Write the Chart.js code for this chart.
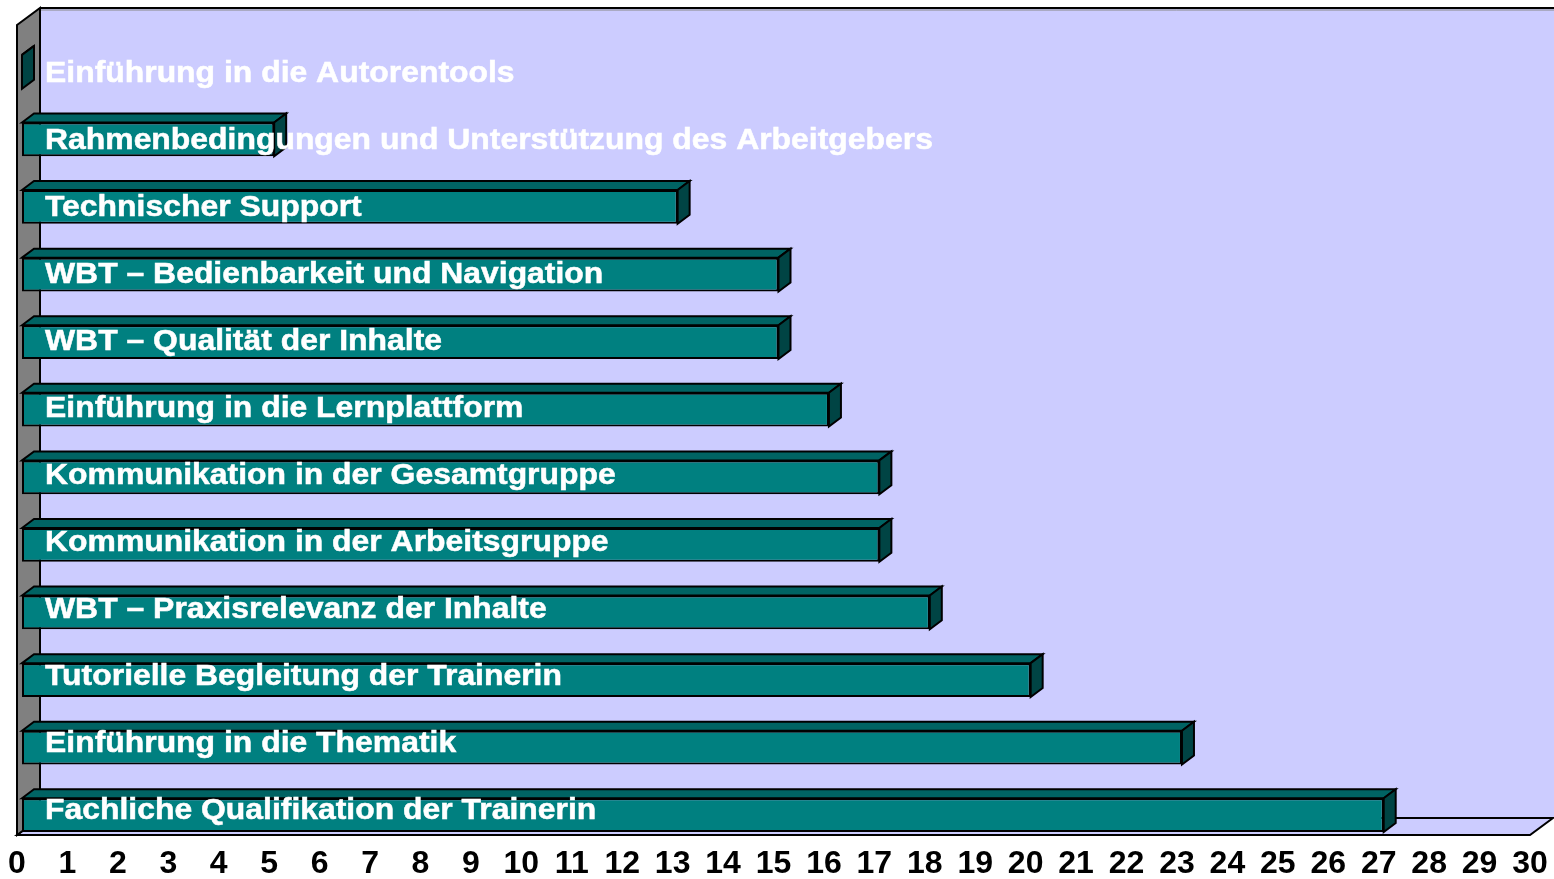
<!DOCTYPE html>
<html>
<head>
<meta charset="utf-8">
<script src="https://cdn.jsdelivr.net/npm/chart.js@4"></script>
<style>
  html, body { margin: 0; padding: 0; background: #fff; }
  canvas { display: block; }
</style>
</head>
<body>
<canvas id="chart" width="1554" height="879"></canvas>
<script>
const categories = [
  'Einführung in die Autorentools',
  'Rahmenbedingungen und Unterstützung des Arbeitgebers',
  'Technischer Support',
  'WBT – Bedienbarkeit und Navigation',
  'WBT – Qualität der Inhalte',
  'Einführung in die Lernplattform',
  'Kommunikation in der Gesamtgruppe',
  'Kommunikation in der Arbeitsgruppe',
  'WBT – Praxisrelevanz der Inhalte',
  'Tutorielle Begleitung der Trainerin',
  'Einführung in die Thematik',
  'Fachliche Qualifikation der Trainerin'
];
const counts = [0, 5, 13, 15, 15, 16, 17, 17, 18, 20, 23, 27];
const axisMin = 0;
const axisMax = 30;
const axisStep = 1;

const wallColor = '#ccccff';
const sideWallColor = '#808080';
const barFront = '#008080';
const barTop = '#006363';
const barSide = '#004444';

// excel style 3d box: walls, floor, bar tops and sides
const box3d = {
  id: 'box3d',
  beforeDatasetsDraw(chart) {
    const {ctx, scales: {x}} = chart;
    const x0 = x.getPixelForValue(axisMin) - 5;
    const x1 = x.getPixelForValue(axisMax) - 5;
    const floorY = 835;
    const topY = 25;
    const dx = 23, dy = -17;
    ctx.save();
    ctx.lineJoin = 'miter';
    // back wall
    ctx.fillStyle = wallColor;
    ctx.fillRect(x0 + dx, topY + dy, chart.width - x0 - dx + 5, floorY - topY);
    // floor
    ctx.beginPath();
    ctx.moveTo(x0, floorY);
    ctx.lineTo(x0 + dx, floorY + dy);
    ctx.lineTo(x1 + dx, floorY + dy);
    ctx.lineTo(x1, floorY);
    ctx.closePath();
    ctx.fill();
    ctx.strokeStyle = '#000';
    ctx.lineWidth = 2;
    ctx.stroke();
    // left wall
    ctx.beginPath();
    ctx.moveTo(x0, topY);
    ctx.lineTo(x0 + dx, topY + dy);
    ctx.lineTo(x0 + dx, floorY + dy);
    ctx.lineTo(x0, floorY);
    ctx.closePath();
    ctx.fillStyle = sideWallColor;
    ctx.fill();
    ctx.stroke();
    // top edge of back wall
    ctx.beginPath();
    ctx.moveTo(x0 + dx, topY + dy);
    ctx.lineTo(chart.width + 5, topY + dy);
    ctx.stroke();
    ctx.strokeStyle = '#888';
    ctx.lineWidth = 1;
    ctx.beginPath();
    ctx.moveTo(x0 + dx + 1, topY + dy + 2);
    ctx.lineTo(chart.width + 5, topY + dy + 2);
    ctx.stroke();
    ctx.restore();
  },
  afterDatasetsDraw(chart) {
    const {ctx} = chart;
    const meta = chart.getDatasetMeta(0);
    const dx = 12, dy = -9;
    ctx.save();
    ctx.strokeStyle = '#000';
    ctx.lineWidth = 2;
    ctx.lineJoin = 'miter';
    meta.data.forEach((bar) => {
      const left = bar.base;
      const right = bar.x;
      const top = bar.y - bar.height / 2;
      const bottom = bar.y + bar.height / 2;
      // top face
      ctx.beginPath();
      ctx.moveTo(left, top);
      ctx.lineTo(left + dx, top + dy);
      ctx.lineTo(right + dx, top + dy);
      ctx.lineTo(right, top);
      ctx.closePath();
      ctx.fillStyle = barTop;
      ctx.fill();
      ctx.stroke();
      // side face
      ctx.beginPath();
      ctx.moveTo(right, top);
      ctx.lineTo(right + dx, top + dy);
      ctx.lineTo(right + dx, bottom + dy);
      ctx.lineTo(right, bottom);
      ctx.closePath();
      ctx.fillStyle = barSide;
      ctx.fill();
      ctx.stroke();
    });
    // category labels written over the bars
    ctx.fillStyle = '#fff';
    ctx.strokeStyle = '#fff';
    ctx.lineWidth = 0.5;
    ctx.font = 'bold 29px "Liberation Sans", Arial, sans-serif';
    ctx.textBaseline = 'alphabetic';
    ctx.textAlign = 'left';
    meta.data.forEach((bar, i) => {
      const yText = bar.y + 10 - 0.6 * i;
      ctx.save();
      ctx.translate(45, yText);
      ctx.scale(1.1, 1);
      ctx.fillText(categories[i], 0, 0);
      ctx.strokeText(categories[i], 0, 0);
      ctx.restore();
    });
    ctx.restore();
  }
};

new Chart(document.getElementById('chart'), {
  type: 'bar',
  data: {
    labels: categories,
    datasets: [{
      data: counts,
      backgroundColor: barFront,
      borderColor: '#000',
      borderWidth: 2,
      borderSkipped: false,
      categoryPercentage: 1,
      barPercentage: 0.5
    }]
  },
  options: {
    indexAxis: 'y',
    responsive: false,
    animation: false,
    devicePixelRatio: 1,
    layout: {
      padding: {left: 22, right: 19, top: 38, bottom: 0}
    },
    scales: {
      x: {
        min: axisMin,
        max: axisMax,
        grid: {display: false, drawTicks: false},
        border: {display: false},
        ticks: {
          stepSize: axisStep,
          padding: 0,
          labelOffset: -5,
          color: '#000',
          maxRotation: 0,
          autoSkip: false,
          font: {family: '"Liberation Sans", Arial, sans-serif', weight: 'bold', size: 32, lineHeight: '30px'}
        }
      },
      y: {
        display: false
      }
    },
    plugins: {
      legend: {display: false},
      tooltip: {enabled: false},
      title: {display: false}
    }
  },
  plugins: [box3d]
});
</script>
</body>
</html>
